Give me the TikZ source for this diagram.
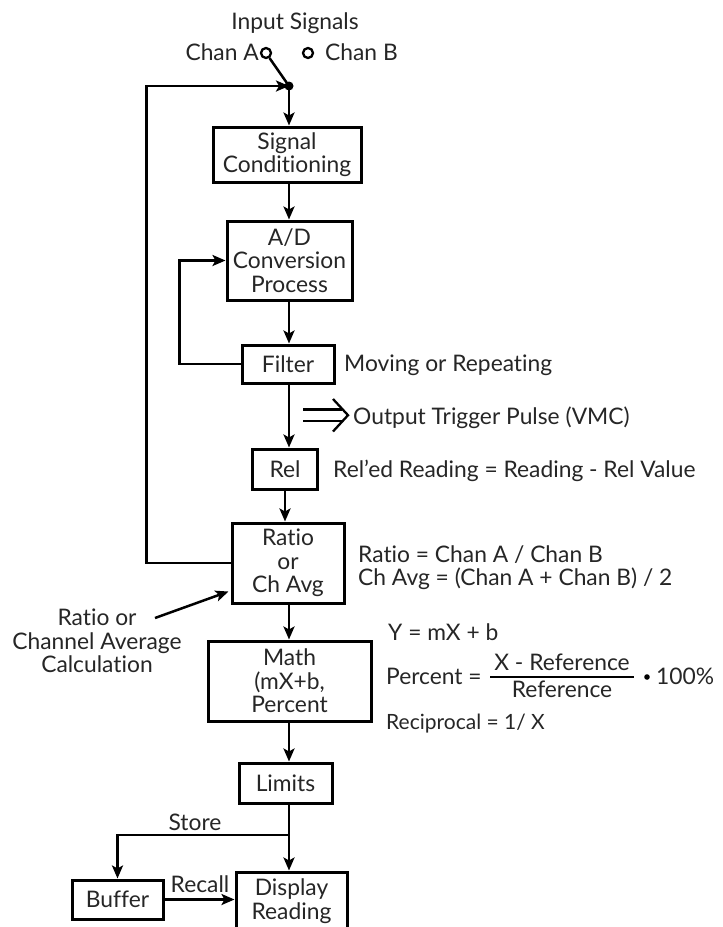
\documentclass[tikz,border=0pt]{standalone}
\usepackage{fontspec}
\setmainfont{Lato}[Ligatures={NoCommon}]
\usetikzlibrary{arrows.meta,calc}
\newcommand\dfont{\fontsize{22.8}{23.5}\selectfont}
\newcommand\sfontr{\fontsize{21}{22}\selectfont}
\begin{document}
\begin{tikzpicture}[x=1pt,y=-1pt,
  box/.style={draw,line width=3pt,align=center,inner sep=0pt,font=\dfont,text=black!85},
  lbl/.style={inner sep=0pt,font=\dfont,text=black!85},
  arr/.style={line width=2.5pt,-{Stealth[length=13pt,width=11pt,inset=3pt]}},
  ln/.style={line width=2.5pt},
  term/.style={draw,circle,line width=2.3pt,minimum size=10pt,inner sep=0pt}]
\useasboundingbox (0,0) rectangle (723,927);
\clip (0,0) rectangle (723,927);
\fill[white] (0,0) rectangle (723,927);

% top inputs
\node[lbl,anchor=base] (insig) at (295,29) {Input Signals};
\node[term] (ca) at (266,53) {};
\node[term] (cb) at (308,53) {};
\node[lbl,anchor=base east] (chana) at (259,60) {Chan A};
\node[lbl,anchor=base west] (chanb) at (325,60) {Chan B};
\coordinate (j) at (289,86);
\draw[ln] (ca) -- (j);
\fill (j) circle (4.5pt);

% boxes
\node[box,minimum width=148pt,minimum height=55pt] (sig) at (287,154.5) {Signal\\Conditioning};
\node[box,minimum width=125pt,minimum height=79pt] (ad) at (289.5,260.5) {A/D\\Conversion\\Process};
\node[box,minimum width=92pt,minimum height=38pt] (filter) at (288,364) {Filter};
\node[box,minimum width=65pt,minimum height=40pt] (rel) at (285,469) {Rel};
\node[box,minimum width=112pt,minimum height=80pt] (ratio) at (288,563) {Ratio\\or\\Ch Avg};
\node[box,minimum width=163pt,minimum height=80pt] (math) at (289.5,681) {Math\\(mX+b,\\Percent};
\node[box,minimum width=93pt,minimum height=40pt] (limits) at (285.5,783) {Limits};
\node[box,minimum width=91pt,minimum height=39pt] (buffer) at (117.5,899.5) {Buffer};
\node[box,minimum width=111pt,minimum height=58pt] (display) at (291.5,901) {Display\\Reading};

% main flow
\draw[arr] (j) -- (j |- sig.north);
\draw[arr] (sig.south -| j) -- (j |- ad.north);
\draw[arr] (ad.south -| j) -- (j |- filter.north);
\draw[arr] (filter.south -| j) -- (j |- rel.north);
\draw[arr] (rel.south) -- (rel.south |- ratio.north);
\draw[arr] (ratio.south -| j) -- (j |- math.north);
\draw[arr] (math.south -| j) -- (j |- limits.north);
\draw[arr] (limits.south -| j) -- (j |- display.north);
\coordinate (br) at (289,835);
\draw[arr] (br) -| (buffer.north);
\draw[arr] (buffer.east) -- (buffer.east -| display.west);

% feedback loops
\draw[arr] (filter.west) -- ++(-61,0) |- (ad.west);
\draw[arr] (ratio.west) -- ++(-84,0) |- (j);

% output trigger double arrow
\draw[ln,line width=2.3pt] (303,409.5) -- (342,409.5);
\draw[ln,line width=2.3pt] (303,421) -- (342,421);
\draw[ln,line width=2.3pt,line join=miter] (333,399) -- (348,415.2) -- (333,431.5);

% labels
\node[lbl,anchor=base] (store) at (195,830) {Store};
\node[lbl,anchor=base] (recall) at (200,892) {Recall};
\node[lbl,anchor=base west] (moving) at (344,371) {Moving or Repeating};
\node[lbl,anchor=base west] (otp) at (353,424) {Output Trigger Pulse (VMC)};
\node[lbl,anchor=base west] (reled) at (333,477) {Rel’ed Reading = Reading - Rel Value};
\node[lbl,anchor=base west] (rform1) at (358,562) {Ratio = Chan A / Chan B};
\node[lbl,anchor=base west] (rform2) at (358,585) {Ch Avg = (Chan A + Chan B) / 2};
\node[lbl,align=center] (rlabel) at (97,641) {Ratio or\\Channel Average\\Calculation};
\coordinate (rl) at (155,618);
\draw[arr] (rl) -- ($(ratio.south west)+(-2,-13)$);

\node[lbl,anchor=base west] (ymx) at (388,640) {Y = mX + b};
\node[lbl,anchor=base west] (pct) at (386,684) {Percent =};
\node[lbl,anchor=base] (num) at (562,670) {X - Reference};
\node[lbl,anchor=base] (den) at (562,697) {Reference};
\draw[line width=1.4pt] (490,677) -- (634,677);
\fill (647,677) circle (2.8pt);
\node[lbl,anchor=base west] (hund) at (656,684) {100\%};
\node[lbl,anchor=base west,font=\sfontr] (recip) at (386,729) {Reciprocal = 1/ X};
\end{tikzpicture}
\end{document}
